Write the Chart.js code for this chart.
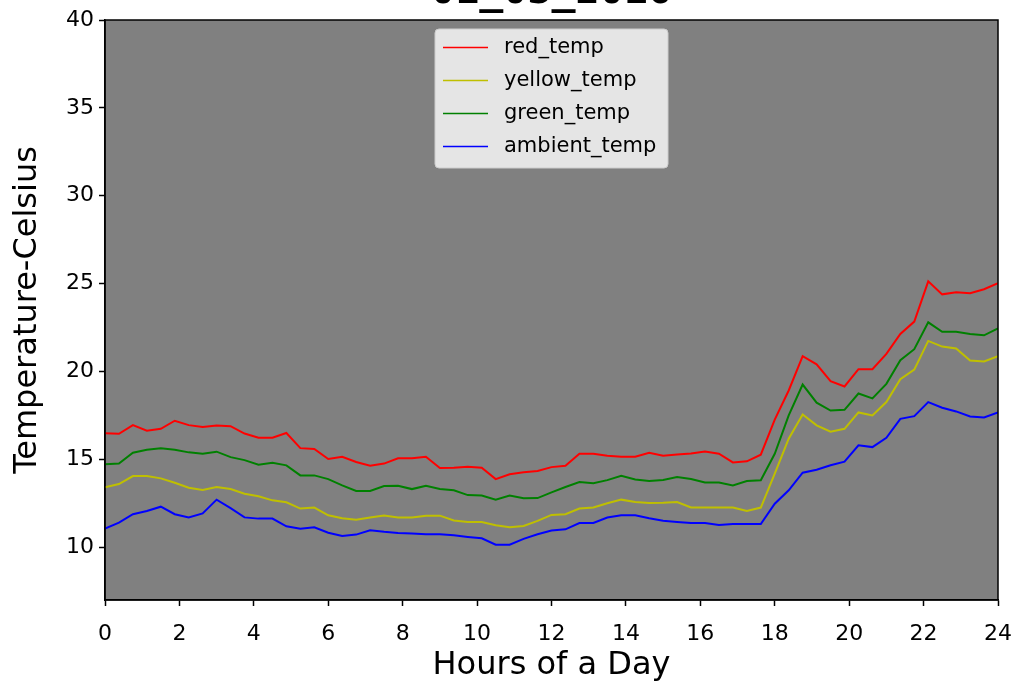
<!DOCTYPE html>
<html>
<head>
<meta charset="utf-8">
<script src="https://cdn.jsdelivr.net/npm/chart.js@4/dist/chart.umd.min.js"></script>
<style>
  html, body { margin: 0; padding: 0; background: #ffffff; }
  #wrap { width: 1018px; height: 685px; }
</style>
</head>
<body>
<div id="wrap"><canvas id="line-chart" width="1018" height="685"></canvas></div>
<script>
// hours of the day (one reading about every 22.5 min)
const hours = [0, 0.375, 0.75, 1.125, 1.5, 1.875, 2.25, 2.625, 3, 3.375,
    3.75, 4.125, 4.5, 4.875, 5.25, 5.625, 6, 6.375, 6.75, 7.125,
    7.5, 7.875, 8.25, 8.625, 9, 9.375, 9.75, 10.125, 10.5, 10.875,
    11.25, 11.625, 12, 12.375, 12.75, 13.125, 13.5, 13.875, 14.25, 14.625,
    15, 15.375, 15.75, 16.125, 16.5, 16.875, 17.25, 17.625, 18, 18.375,
    18.75, 19.125, 19.5, 19.875, 20.25, 20.625, 21, 21.375, 21.75, 22.125,
    22.5, 22.875, 23.25, 23.625, 24];

const redTemp = [16.49, 16.46, 16.95, 16.63, 16.74, 17.2, 16.95, 16.84, 16.93, 16.89,
    16.47, 16.23, 16.23, 16.5, 15.64, 15.59, 15.02, 15.15, 14.85, 14.64,
    14.76, 15.06, 15.07, 15.15, 14.51, 14.53, 14.58, 14.53, 13.88, 14.15,
    14.27, 14.34, 14.56, 14.64, 15.32, 15.32, 15.21, 15.15, 15.15, 15.38,
    15.21, 15.28, 15.34, 15.45, 15.32, 14.83, 14.89, 15.27, 17.26, 18.92,
    20.87, 20.41, 19.45, 19.15, 20.13, 20.13, 21.0, 22.14, 22.84, 25.13,
    24.39, 24.51, 24.45, 24.68, 25.02];

const yellowTemp = [13.41, 13.6, 14.05, 14.05, 13.92, 13.67, 13.39, 13.26, 13.43, 13.31,
    13.05, 12.9, 12.67, 12.56, 12.2, 12.26, 11.82, 11.65, 11.57, 11.69,
    11.81, 11.7, 11.7, 11.8, 11.8, 11.52, 11.44, 11.44, 11.25, 11.14,
    11.21, 11.5, 11.84, 11.88, 12.2, 12.26, 12.5, 12.71, 12.57, 12.52,
    12.53, 12.57, 12.26, 12.26, 12.26, 12.26, 12.06, 12.26, 14.19, 16.18,
    17.56, 16.94, 16.58, 16.74, 17.67, 17.5, 18.26, 19.56, 20.11, 21.74,
    21.42, 21.31, 20.63, 20.57, 20.87];

const greenTemp = [14.72, 14.77, 15.38, 15.55, 15.63, 15.55, 15.4, 15.32, 15.44, 15.13,
    14.96, 14.7, 14.81, 14.66, 14.09, 14.09, 13.88, 13.52, 13.2, 13.2,
    13.48, 13.5, 13.31, 13.5, 13.31, 13.24, 12.97, 12.95, 12.71, 12.94,
    12.79, 12.8, 13.12, 13.43, 13.71, 13.64, 13.82, 14.07, 13.86, 13.77,
    13.83, 14.0, 13.88, 13.69, 13.68, 13.52, 13.77, 13.81, 15.32, 17.5,
    19.26, 18.23, 17.78, 17.82, 18.75, 18.47, 19.3, 20.64, 21.27, 22.8,
    22.26, 22.26, 22.14, 22.06, 22.46];

const ambientTemp = [11.06, 11.4, 11.88, 12.06, 12.31, 11.88, 11.69, 11.93, 12.71, 12.23,
    11.7, 11.63, 11.63, 11.19, 11.06, 11.14, 10.83, 10.64, 10.72, 10.97,
    10.88, 10.81, 10.79, 10.74, 10.74, 10.68, 10.59, 10.51, 10.15, 10.15,
    10.48, 10.74, 10.95, 11.02, 11.38, 11.38, 11.69, 11.82, 11.82, 11.65,
    11.51, 11.44, 11.38, 11.38, 11.27, 11.32, 11.32, 11.32, 12.48, 13.24,
    14.24, 14.41, 14.67, 14.87, 15.8, 15.7, 16.23, 17.31, 17.46, 18.26,
    17.94, 17.73, 17.44, 17.39, 17.67];

const seriesNames = ['red_temp', 'yellow_temp', 'green_temp', 'ambient_temp'];
const seriesColors = ['#ff0000', '#bfbf00', '#008000', '#0000ff'];
const xTicks = [0, 2, 4, 6, 8, 10, 12, 14, 16, 18, 20, 22, 24];
const yTicks = [10, 15, 20, 25, 30, 35, 40];
const chartTitle = '01_03_2016';

const toPoints = (vals) => vals.map((v, i) => ({ x: hours[i], y: v }));

// gray axes background + top/right spines + title + legend box
const framePlugin = {
    id: 'frame',
    beforeDraw(chart) {
        const { ctx, chartArea: a } = chart;
        ctx.save();
        ctx.fillStyle = '#808080';
        ctx.fillRect(a.left, a.top, a.right - a.left, a.bottom - a.top);
        ctx.restore();
    },
    afterDraw(chart) {
        const { ctx, chartArea: a } = chart;
        ctx.save();
        ctx.strokeStyle = '#000000';
        ctx.lineWidth = 1.5;
        ctx.strokeRect(a.left, a.top, a.right - a.left, a.bottom - a.top);

        ctx.fillStyle = '#000000';
        ctx.font = 'bold 40px "DejaVu Sans Mono"';
        ctx.textAlign = 'center';
        ctx.textBaseline = 'alphabetic';
        ctx.fillText(chartTitle, (a.left + a.right) / 2, 3);

        // legend
        const bx = 435, by = 29, bw = 233, bh = 139;
        ctx.beginPath();
        ctx.roundRect(bx, by, bw, bh, 4);
        ctx.fillStyle = '#e5e5e5';
        ctx.fill();
        ctx.strokeStyle = '#cccccc';
        ctx.lineWidth = 1;
        ctx.stroke();
        ctx.font = '21px "DejaVu Sans"';
        ctx.textAlign = 'left';
        ctx.textBaseline = 'middle';
        chart.data.datasets.forEach((ds, i) => {
            const y = 47.5 + i * 33;
            ctx.strokeStyle = ds.borderColor;
            ctx.lineWidth = 1.5;
            ctx.beginPath();
            ctx.moveTo(443, y);
            ctx.lineTo(488, y);
            ctx.stroke();
            ctx.fillStyle = '#000000';
            ctx.fillText(ds.label, 504, y);
        });
        ctx.restore();
    }
};

const tickFont = { family: 'DejaVu Sans', size: 22 };
const titleFont = { family: 'DejaVu Sans', size: 32 };

new Chart(document.getElementById('line-chart'), {
    type: 'line',
    data: {
        datasets: [redTemp, yellowTemp, greenTemp, ambientTemp].map((vals, i) => ({
            label: seriesNames[i],
            data: toPoints(vals),
            borderColor: seriesColors[i],
            borderWidth: 2,
            pointRadius: 0,
            tension: 0,
            fill: false
        }))
    },
    options: {
        responsive: false,
        animation: false,
        layout: { padding: { top: 20, right: 20, left: 0, bottom: 0 } },
        plugins: {
            legend: { display: false },
            title: { display: false },
            tooltip: { enabled: false }
        },
        scales: {
            x: {
                type: 'linear',
                min: 0,
                max: 24,
                afterBuildTicks: (scale) => { scale.ticks = xTicks.map(v => ({ value: v })); },
                afterFit: (scale) => {
                    scale.height = 85;
                    scale.paddingLeft = 0;
                    scale.paddingRight = 0;
                },
                ticks: { font: tickFont, color: '#000000', padding: 15, maxRotation: 0, autoSkip: false },
                grid: { drawOnChartArea: false, drawTicks: true, tickLength: 6, tickColor: '#000000', tickWidth: 1.5 },
                border: { color: '#000000', width: 1.5 },
                title: { display: true, text: 'Hours of a Day', font: titleFont, color: '#000000', padding: { top: 0, bottom: 0 } }
            },
            y: {
                type: 'linear',
                min: 7,
                max: 40,
                afterBuildTicks: (scale) => { scale.ticks = yTicks.map(v => ({ value: v })); },
                afterFit: (scale) => { scale.width = 105; },
                ticks: { font: tickFont, color: '#000000', padding: 5, autoSkip: false },
                grid: { drawOnChartArea: false, drawTicks: true, tickLength: 6, tickColor: '#000000', tickWidth: 1.5 },
                border: { color: '#000000', width: 1.5 },
                title: { display: true, text: 'Temperature-Celsius', font: titleFont, color: '#000000', padding: { top: 8, bottom: 0 } }
            }
        }
    },
    plugins: [framePlugin]
});
</script>
</body>
</html>
